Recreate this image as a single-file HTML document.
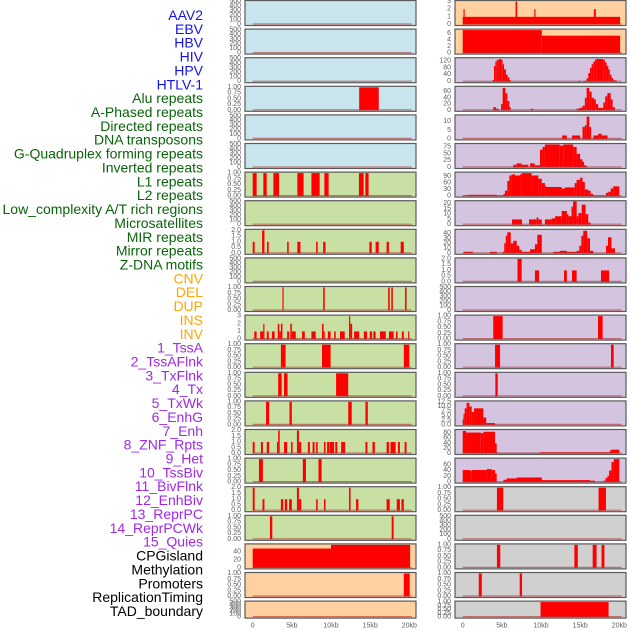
<!DOCTYPE html>
<html><head><meta charset="utf-8">
<style>
html,body{margin:0;padding:0;background:#fff;}
svg{display:block;font-family:"Liberation Sans",sans-serif;}
</style></head>
<body>
<svg id="chart" width="630" height="630" viewBox="0 0 630 630"></svg>
<script>
const labels=["AAV2","EBV","HBV","HIV","HPV","HTLV-1","Alu repeats","A-Phased repeats","Directed repeats","DNA transposons","G-Quadruplex forming repeats","Inverted repeats","L1 repeats","L2 repeats","Low_complexity A/T rich regions","Microsatellites","MIR repeats","Mirror repeats","Z-DNA motifs","CNV","DEL","DUP","INS","INV","1_TssA","2_TssAFlnk","3_TxFlnk","4_Tx","5_TxWk","6_EnhG","7_Enh","8_ZNF_Rpts","9_Het","10_TssBiv","11_BivFlnk","12_EnhBiv","13_ReprPC","14_ReprPCWk","15_Quies","CPGisland","Methylation","Promoters","ReplicationTiming","TAD_boundary"];
const labelGroups=[6,13,5,15,5];
const xTicks=[0,5,10,15,20];
const xTickLabels=["0","5kb","10kb","15kb","20kb"];
const T500=[0,100,200,300,400,500];
const T1=[0,0.25,0.5,0.75,1];
const T2=[0,0.5,1,1.5,2];
// left column segments [startKb,endKb,value]
const L01=[],L02=[],L03=[],L05=[],L06=[],L08=[],L10=[],L22=[];
const L04=[[13.6,16.1,1]];
const L07=[[0,0.5,1],[1.36,1.79,1],[2.64,3.36,1],[5.7,6.5,1],[7.5,8.55,1],[9.15,9.7,1],[13.57,14.17,1],[14.38,14.8,1]];
const L09=[[0,0.25,1],[1.2,1.5,2],[1.83,2.04,1],[4.4,4.6,1],[5.7,6.1,1],[8.1,8.3,1],[9.0,9.3,1],[14.9,15.2,1],[15.7,16.1,1],[17.1,17.4,1],[18.9,19.3,1]];
const L11=[[3.8,3.95,1],[9.0,9.2,1],[17.3,17.5,1],[17.7,17.9,1],[19.45,19.65,1]];
const L12=[[0.2,0.5,1],[0.95,1.35,1],[1.35,1.5,2],[1.8,2.05,1],[2.45,2.8,1],[3.2,3.4,2],[3.4,3.6,1],[3.6,3.8,2],[4.4,4.65,1],[4.8,5.0,2],[5.0,5.5,1],[6.3,6.65,1],[7.5,8.05,1],[8.85,9.05,2],[9.05,9.2,1],[9.6,9.95,1],[10.4,10.6,1],[11.15,11.75,1],[12.3,12.45,3],[12.45,12.7,2],[12.95,13.6,1],[14.2,14.6,1],[14.95,15.25,1],[15.4,15.7,1],[16.25,17.0,1],[17.4,18.0,1],[18.3,18.5,1],[19.05,19.3,1],[19.85,20.0,1]];
const L13=[[3.6,4.2,1],[8.85,9.95,1],[19.3,20.0,1]];
const L14=[[3.25,3.7,1],[4.0,4.45,1],[10.65,12.2,1]];
const L15=[[1.7,2.1,1],[4.7,5.0,1],[12.2,12.65,1],[14.4,14.7,1]];
const L16=[[0,0.25,1],[1.05,1.3,1],[1.8,2.1,1],[3.1,3.25,1],[3.25,3.45,2],[4.0,4.4,1],[4.9,5.1,1],[5.65,5.9,2],[5.9,6.2,1],[7.05,7.3,1],[7.65,7.9,1],[8.1,8.3,1],[9.1,9.3,1],[9.5,9.8,1],[9.85,10.4,1],[10.55,10.8,1],[11.3,11.8,1],[14.4,14.65,1],[15.3,15.6,1],[17.1,17.4,1],[17.6,18.25,1],[18.55,18.8,1],[19.4,19.65,1]];
const L17=[[0.8,1.3,1],[6.4,6.8,1],[8.4,8.8,1]];
const L18=[[0,0.25,2],[1.25,1.5,1],[3.6,3.9,1],[4.1,4.4,1],[4.65,5.0,1],[5.65,5.9,2],[5.9,6.2,1],[8.1,8.3,1],[9.1,9.3,1],[12.3,12.5,2],[13.2,13.5,1],[17.1,17.5,1],[18.4,18.8,1],[19.0,19.3,1]];
const L19=[[2.2,2.5,1],[17.75,18.0,1]];
const L20=[[0,10,48],[10,20.1,57]];
const L21=[[19.3,20.05,1]];
// right column
const R01=[[0,20.1,1],[0.1,0.25,2],[6.75,6.95,3],[9.15,9.3,2],[16.75,17.0,2]];
const R02=[[0,10.1,7],[10.1,20.1,5.3]];
const R03=[[3.83,4.0,10],[4.0,4.17,90],[4.17,4.34,115],[4.34,4.6,125],[4.6,4.94,130],[4.94,5.1,125],[5.1,5.28,100],[5.28,5.53,70],[5.53,5.74,40],[5.74,5.96,25],[5.96,6.13,10],[14.77,15.1,5],[15.4,15.83,5],[15.83,16.04,20],[16.04,16.26,50],[16.26,16.47,80],[16.47,16.68,100],[16.68,16.9,115],[16.9,17.1,128],[17.1,17.96,130],[17.96,18.17,125],[18.17,18.38,110],[18.38,18.6,90],[18.6,18.8,70],[18.8,19.0,40],[19.0,19.23,20],[19.23,19.66,8]];
const R04=[[3.9,4.25,10],[4.25,4.6,5],[4.9,5.1,20],[5.1,5.45,72],[5.45,5.7,55],[5.7,5.96,30],[5.96,6.13,10],[8.72,9.0,5],[14.55,14.9,5],[14.9,15.3,8],[15.3,15.6,15],[15.6,15.83,40],[15.83,16.17,72],[16.17,16.47,60],[16.47,16.77,40],[16.77,17.0,35],[17.0,17.3,20],[17.3,17.96,8],[17.96,18.2,25],[18.2,18.47,45],[18.47,18.9,55],[18.9,19.15,35],[19.15,19.45,10]];
const R05=[[12.7,13.3,2],[13.95,15.0,2],[15.3,15.6,7],[15.6,15.83,8],[15.83,16.17,13],[16.17,16.4,7],[16.7,17.3,2],[17.3,17.75,3],[17.75,18.5,2]];
const R06=[[6.47,6.9,10],[6.9,7.5,15],[7.5,8.4,10],[8.6,9.2,15],[9.2,9.87,8],[9.87,10.2,65],[10.2,10.5,75],[10.5,12.4,84],[12.4,12.85,80],[12.85,14.1,84],[14.1,14.55,75],[14.55,15.0,50],[15.0,15.3,30],[15.3,15.5,20],[15.5,15.8,8],[15.8,15.95,3]];
const R07=[[0,0.35,2],[0.35,0.72,3],[0.72,4.34,6],[4.34,5.2,2],[5.2,5.4,10],[5.4,5.7,25],[5.7,5.96,70],[5.96,6.25,95],[6.25,6.68,100],[6.68,7.32,95],[7.32,7.53,100],[7.53,8.8,106],[8.8,9.66,95],[9.66,10.1,80],[10.1,10.5,60],[10.5,10.7,45],[10.7,12.64,42],[12.64,13.06,35],[13.06,14.3,40],[14.3,14.55,60],[14.55,15.0,75],[15.0,15.3,85],[15.3,15.6,65],[15.6,16.04,30],[16.04,16.34,25],[16.34,16.68,10],[16.68,18.3,2],[18.3,18.6,15],[18.6,18.9,20],[18.9,19.23,35],[19.23,20.0,45]];
const R08=[[6.3,7.57,5],[8.47,9.45,5],[9.45,9.66,7],[9.66,10.1,5],[10.5,11.36,5],[11.36,11.8,6],[11.8,12.64,8],[12.64,13.3,13],[13.3,13.5,10],[13.5,13.9,8],[13.9,14.1,17],[14.1,14.55,22],[14.55,14.77,8],[14.77,15.2,11],[15.2,15.7,19],[15.7,16.04,10],[16.04,16.34,2]];
const R09=[[0.1,1.3,3],[3.5,4.34,3],[5.1,5.3,3],[5.3,5.5,20],[5.5,5.7,35],[5.7,6.13,42],[6.13,6.47,20],[6.47,6.9,25],[6.9,7.23,15],[7.23,7.53,7],[7.53,8.6,3],[8.6,9.23,8],[9.23,9.53,18],[9.53,10.1,37],[11.57,12.4,3],[12.4,13.3,5],[13.3,14.55,3],[14.55,14.9,5],[14.9,15.15,15],[15.15,15.4,35],[15.4,15.9,45],[15.9,16.26,30],[16.26,16.68,5],[18.3,18.55,15],[18.55,19.0,32],[19.0,19.45,10]];
const R10=[[7.0,7.53,2],[9.23,9.74,1],[12.94,13.3,1],[13.96,14.55,1],[17.66,18.7,1]];
const R11=[],R19=[];
const R12=[[3.9,5.1,1],[17.28,17.87,1]];
const R13=[[4.13,4.77,1],[18.94,19.28,1]];
const R14=[[4.17,4.47,1]];
const R15=[[0,0.1,3],[0.1,0.25,6],[0.25,0.5,9],[0.5,0.85,12],[0.85,1.15,10],[1.15,1.45,7],[1.45,2.64,9],[2.64,3.0,4],[3.0,4.13,1]];
const R16=[[0,0.43,88],[0.43,2.3,82],[2.3,2.64,80],[2.64,4.13,85],[4.13,4.34,40],[4.34,4.5,5],[4.5,9.87,2],[9.87,18.8,5],[18.8,19.0,12],[19.0,20.0,15]];
const R17=[[0,0.94,42],[0.94,1.15,40],[1.15,3.06,42],[3.06,3.7,45],[3.7,4.13,42],[4.13,4.34,30],[5.2,5.6,8],[5.6,6.9,13],[6.9,10.1,16],[10.1,16.26,7],[16.26,16.9,5],[17.96,18.25,5],[18.25,18.5,15],[18.5,18.7,22],[18.7,19.0,40],[19.0,19.3,70],[19.3,20.0,80]];
const R18=[[4.37,5.18,1],[17.35,18.3,1]];
const R20=[[4.37,4.8,1],[14.26,14.7,1],[16.6,17.1,1],[17.73,18.1,1]];
const R21=[[2.05,2.44,1],[7.28,7.58,1]];
const R22=[[9.94,18.63,1]];

const leftSeries=[L01,L02,L03,L04,L05,L06,L07,L08,L09,L10,L11,L12,L13,L14,L15,L16,L17,L18,L19,L20,L21,L22];
const rightSeries=[R01,R02,R03,R04,R05,R06,R07,R08,R09,R10,R11,R12,R13,R14,R15,R16,R17,R18,R19,R20,R21,R22];
const leftYMax=[500,500,500,1,500,500,1,500,2,500,1,3,1,1,1,2,1,2,1,57,1,500];
const rightYMax=[3,7,132,74,13.4,84,106,21.8,46,2,500,1,1,1,12.5,90,80,1,500,1,1,1];
const leftTicks=[T500,T500,T500,T1,T500,T500,T1,T500,T2,T500,T1,[0,1,2,3],T1,T1,T1,T2,T1,T2,T1,[0,20,40],T1,T500];
const rightTicks=[[0,1,2,3],[0,2,4,6],[0,40,80,120],[0,20,40,60],[0,5,10],[0,25,50,75],[0,30,60,90],[0,5,10,15,20],[0,10,20,30,40],T2,T500,T1,T1,T1,[0,2.5,5,7.5,10,12.5],[0,20,40,60,80],[0,20,40,60],T1,T500,T1,T1,T1];
const leftColors=Array(6).fill('#c8e4ec').concat(Array(13).fill('#c8e0a4'),Array(3).fill('#ffd0a0'));
const rightColors=Array(2).fill('#ffd0a0').concat(Array(15).fill('#d4c4e0'),Array(5).fill('#d0d0d0'));

const svg=document.getElementById('chart');
const NS='http://www.w3.org/2000/svg';
function mk(tag,attrs,parent){const e=document.createElementNS(NS,tag);for(const k in attrs)e.setAttribute(k,attrs[k]);(parent||svg).appendChild(e);return e;}

// labels
const groupColors=['#1414e6','#0a640a','#ffa500','#a028e6','#000000'];
let li=0;
labelGroups.forEach((n,g)=>{for(let j=0;j<n;j++){
  const t=mk('text',{x:203,y:15+li*13.86,'text-anchor':'end','dominant-baseline':'central','font-size':'14',fill:groupColors[g]});
  t.textContent=labels[li];
  
  
  li++;}});

const KB=7.83;
function fmt(v,ticks){const dec=ticks.some(t=>t%1!==0)?(ticks.some(t=>(t*10)%1!==0)?2:1):0;return v.toFixed(dec);}
function drawPanel(col,i,segs,ymax,ticks,color,name){
  const px=col===0?245:455, x0=col===0?252.7:462.7;
  const top=i*28.6, h=i===21?17:25;
  const g=mk('g',{});
  
  
  const bg=mk('rect',{x:px,y:top+0.5,width:171,height:h,fill:color,stroke:'#5a5a5a','stroke-width':1.2},g);
  
  
  const yb=top+h-0.5, yt=top+1.5;
  const ys=v=>yb-(v/ymax)*(yb-yt);
  const xs=k=>x0+k*KB;
  segs.forEach((s,j)=>{
    const r=mk('rect',{x:xs(s[0]),y:ys(s[2]),width:Math.max(0.8,xs(s[1])-xs(s[0])),height:yb-ys(s[2]),fill:'#ff0000'},g);
    
    
  });
  const bl=mk('line',{x1:xs(0),x2:xs(20.3),y1:yb-0.5,y2:yb-0.5,stroke:'#b03030','stroke-opacity':0.6,'stroke-width':1.2},g);
  
  
  ticks.forEach(tv=>{
    const t=mk('text',{x:px-4,y:ys(tv),'text-anchor':'end','dominant-baseline':'central','font-size':'7',fill:'#606060'},g);
    t.textContent=fmt(tv,ticks);
    
    
  });
}
for(let i=0;i<22;i++){
  drawPanel(0,i,leftSeries[i],leftYMax[i],leftTicks[i],leftColors[i],'panel-'+labels[i].toLowerCase().replace(/[^a-z0-9]+/g,'-'));
  drawPanel(1,i,rightSeries[i],rightYMax[i],rightTicks[i],rightColors[i],'panel-'+labels[22+i].toLowerCase().replace(/[^a-z0-9]+/g,'-'));
}
[252.7,462.7].forEach((x0,c)=>{
  xTicks.forEach((k,j)=>{
    const t=mk('text',{x:x0+k*KB,y:626,'text-anchor':'middle','dominant-baseline':'central','font-size':'7',fill:'#606060'});
    t.textContent=xTickLabels[j];
    
    
  });
});
</script>
</body></html>
